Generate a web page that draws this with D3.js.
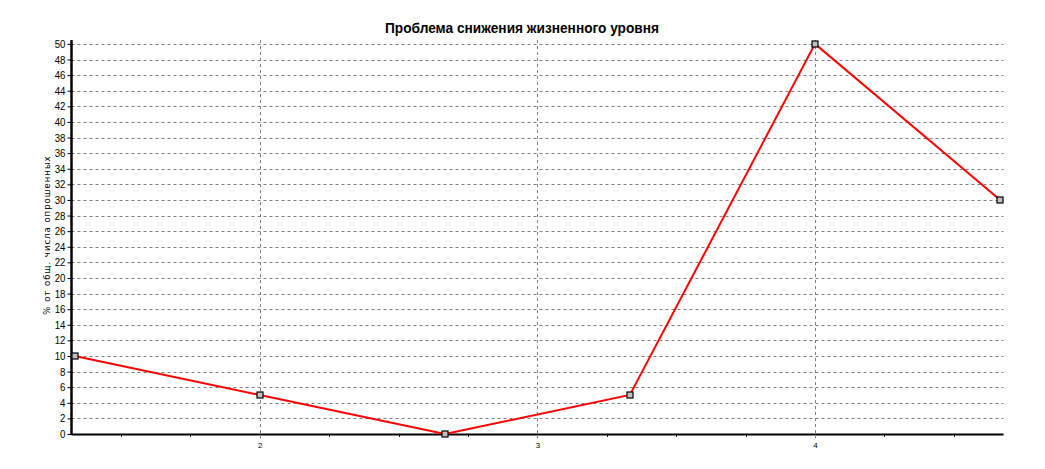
<!DOCTYPE html>
<html><head><meta charset="utf-8">
<script src="https://cdn.jsdelivr.net/npm/d3@7"></script>
<style>body{margin:0;background:#fff}svg{display:block}</style>
</head><body>
<svg id="c" width="1045" height="469"></svg>
<script>
const title = "Проблема снижения жизненного уровня";
const yLabel = "% от общ. числа опрошенных";
const xValues = [1.333, 2, 2.667, 3.333, 4, 4.667];
const yValues = [10, 5, 0, 5, 50, 30];
const xMajorTicks = [2, 3, 4];
const xMinorTicks = [1.5, 1.75, 2.25, 2.5, 2.75, 3.25, 3.5, 3.75, 4.25, 4.5];
const yTicks = d3.range(0, 51, 2);

const svg = d3.select("#c");
const L = 71.5, R = 1003.5, T = 40, B = 434;
const x = d3.scaleLinear().domain([1.3215, 4.679]).range([L, R]);
const y = d3.scaleLinear().domain([0, 50.5]).range([B, T]);

// horizontal grid
svg.append("g").selectAll("line").data(yTicks).join("line")
  .attr("x1", L).attr("x2", R)
  .attr("y1", d => Math.round(y(d)) + 0.5).attr("y2", d => Math.round(y(d)) + 0.5)
  .attr("stroke", "#808080").attr("stroke-dasharray", "3,3");
// vertical grid
svg.append("g").selectAll("line").data(xMajorTicks).join("line")
  .attr("x1", d => Math.round(x(d)) + 0.5).attr("x2", d => Math.round(x(d)) + 0.5)
  .attr("y1", T).attr("y2", B + 4)
  .attr("stroke", "#808080").attr("stroke-dasharray", "3,3");

// y axis
const yAxis = d3.axisLeft(y).tickValues(yTicks).tickSize(4).tickPadding(2);
const gy = svg.append("g").attr("transform", `translate(${L},0)`).call(yAxis);
gy.select(".domain").remove();
gy.selectAll("text").attr("font-family", "Liberation Sans, Arial, sans-serif").attr("font-size", 11)
  .attr("fill", "#000").attr("transform", "scale(0.88,1)").attr("x", -6/0.88);
gy.selectAll(".tick line").attr("stroke", "#000");

// x axis
const xAxis = d3.axisBottom(x).tickValues(xMajorTicks).tickSize(0).tickPadding(8).tickFormat(d3.format("d"));
const gx = svg.append("g").attr("transform", `translate(0,${B})`).call(xAxis);
gx.select(".domain").remove();
gx.selectAll("text").attr("font-family", "Liberation Sans, Arial, sans-serif").attr("font-size", 8).attr("fill", "#000");
svg.append("g").selectAll("line").data(xMinorTicks).join("line")
  .attr("x1", d => Math.round(x(d)) + 0.5).attr("x2", d => Math.round(x(d)) + 0.5)
  .attr("y1", B).attr("y2", B + 3).attr("stroke", "#000");

// axis lines
svg.append("line").attr("x1", L).attr("x2", L).attr("y1", T).attr("y2", B + 1).attr("stroke", "#000").attr("stroke-width", 2.5);
svg.append("line").attr("x1", L).attr("x2", R).attr("y1", B + 0.5).attr("y2", B + 0.5).attr("stroke", "#000").attr("stroke-width", 2);

// line
const data = xValues.map((v, i) => ({x: v, y: yValues[i]}));
svg.append("path").datum(data)
  .attr("d", d3.line().x(d => x(d.x)).y(d => y(d.y)))
  .attr("fill", "none").attr("stroke", "#ff0000").attr("stroke-width", 2);
svg.append("g").selectAll("rect").data(data).join("rect")
  .attr("x", d => Math.round(x(d.x)) - 3).attr("y", d => Math.round(y(d.y)) - 3)
  .attr("width", 6).attr("height", 6)
  .attr("fill", "#c0c0c0").attr("stroke", "#000").attr("stroke-width", 1.2);

// title
svg.append("text").attr("x", 522).attr("y", 33).attr("text-anchor", "middle")
  .attr("font-family", "Liberation Sans, Arial, sans-serif").attr("font-weight", "bold").attr("font-size", 14.5)
  .attr("textLength", 274).attr("lengthAdjust", "spacingAndGlyphs")
  .attr("fill", "#000").text(title);

// y label
svg.append("text").attr("transform", "translate(50,235) rotate(-90)").attr("text-anchor", "middle")
  .attr("font-family", "DejaVu Sans, Verdana, sans-serif").attr("font-size", 8.5).attr("letter-spacing", 1)
  .attr("fill", "#000").text(yLabel);
</script>
</body></html>
